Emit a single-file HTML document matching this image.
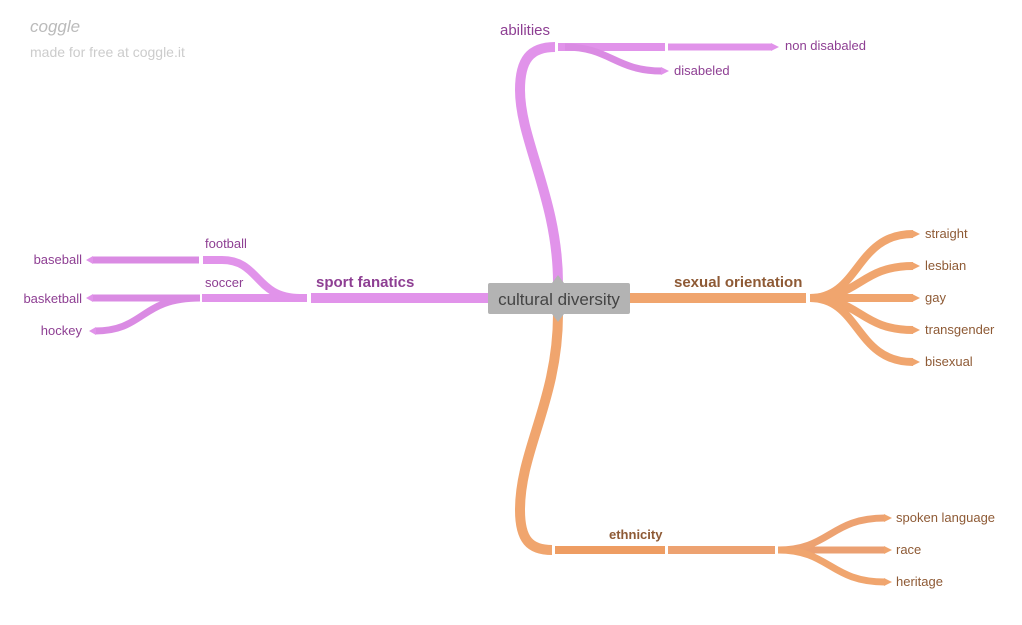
<!DOCTYPE html>
<html><head><meta charset="utf-8"><style>
html,body{margin:0;padding:0;background:#fff;width:1022px;height:625px;overflow:hidden}
svg{display:block}
text{font-family:"Liberation Sans",sans-serif}
</style></head><body>
<svg width="1022" height="625" viewBox="0 0 1022 625" xmlns="http://www.w3.org/2000/svg">
<text x="30" y="32" font-size="17" font-style="italic" fill="#bbb" font-family="Liberation Serif">coggle</text>
<text x="30" y="57" font-size="14" fill="#ccc">made for free at coggle.it</text>

<g fill="none" stroke-linecap="butt">
<g stroke="#e193ea">
<path d="M558 283 C558 200 520 140 520 90 C520 60 530 47 555 47" stroke-width="10"/>
<path d="M558 47 L665 47" stroke-width="8"/>
<path d="M668 47 L772 47" stroke-width="7"/>
<path d="M565 47 C610 47 615 71 662 71" stroke="#da8be3" stroke-width="7"/>
</g>
<g stroke="#e193ea">
<path d="M488 298 L311 298" stroke-width="10"/>
<path d="M307 298 L202 298" stroke-width="8"/>
<path d="M300 298 C255 298 260 260 222 260 L203 260" stroke-width="8"/>
<path d="M199 260 L92 260" stroke="#da8be3" stroke-width="7"/>
<path d="M199 298 L92 298" stroke="#da8be3" stroke-width="7"/>
<path d="M200 298 C140 298 145 331 95 331" stroke="#da8be3" stroke-width="7"/>
</g>
<g stroke="#f0a56e">
<path d="M630 298 L806 298" stroke-width="10"/>
<path d="M810 298 L913 298" stroke-width="8"/>
<path d="M810 298 C860 298 855 234 913 234" stroke-width="8"/>
<path d="M810 298 C860 298 860 266 913 266" stroke-width="8"/>
<path d="M810 298 C860 298 860 330 913 330" stroke-width="8"/>
<path d="M810 298 C860 298 855 362 913 362" stroke-width="8"/>
</g>
<g stroke="#f0a56e">
<path d="M558 314 C558 400 520 450 520 510 C520 540 530 550 552 550" stroke-width="10"/>
<path d="M555 550 L665 550" stroke="#ee9d63" stroke-width="8"/>
<path d="M668 550 L775 550" stroke="#eda271" stroke-width="8"/>
<path d="M778 550 L885 550" stroke="#eba072" stroke-width="7"/>
<path d="M778 550 C830 550 830 518 885 518" stroke="#eda271" stroke-width="7"/>
<path d="M778 550 C830 550 830 582 885 582" stroke="#f0a56e" stroke-width="7"/>
</g>
</g>
<g fill="#e193ea">
<polygon points="771,43 779,47 771,51"/>
<polygon points="661,67 669,71 661,75"/>
<polygon points="93,256 86,260 93,264"/>
<polygon points="93,294 86,298 93,302"/>
<polygon points="96,327 89,331 96,335"/>
</g>
<g fill="#f0a56e">
<polygon points="912,230 920,234 912,238"/>
<polygon points="912,262 920,266 912,270"/>
<polygon points="912,294 920,298 912,302"/>
<polygon points="912,326 920,330 912,334"/>
<polygon points="912,358 920,362 912,366"/>
<polygon points="884,514 892,518 884,522"/>
<polygon points="884,546 892,550 884,554"/>
<polygon points="884,578 892,582 884,586"/>
</g>

<rect x="488" y="283" width="142" height="31" rx="2" fill="#b3b3b3"/>
<polygon points="552,283 558,275 564,283" fill="#b3b3b3"/>
<polygon points="552,314 558,322 564,314" fill="#b3b3b3"/>
<text x="559" y="305" font-size="17" fill="#444" text-anchor="middle">cultural diversity</text>

<g fill="#8e3f93" font-size="13">
<text x="500" y="35" font-size="15">abilities</text>
<text x="785" y="50">non disabaled</text>
<text x="674" y="75">disabeled</text>
<text x="316" y="287" font-size="15" font-weight="bold">sport fanatics</text>
<text x="205" y="248">football</text>
<text x="205" y="287">soccer</text>
<text x="82" y="264" text-anchor="end">baseball</text>
<text x="82" y="303" text-anchor="end">basketball</text>
<text x="82" y="335" text-anchor="end">hockey</text>
</g>
<g fill="#8e5a35" font-size="13">
<text x="674" y="287" font-size="15" font-weight="bold">sexual orientation</text>
<text x="925" y="238">straight</text>
<text x="925" y="270">lesbian</text>
<text x="925" y="302">gay</text>
<text x="925" y="334">transgender</text>
<text x="925" y="366">bisexual</text>
<text x="609" y="539" font-weight="bold">ethnicity</text>
<text x="896" y="522">spoken language</text>
<text x="896" y="554">race</text>
<text x="896" y="586">heritage</text>
</g>
</svg>
</body></html>
